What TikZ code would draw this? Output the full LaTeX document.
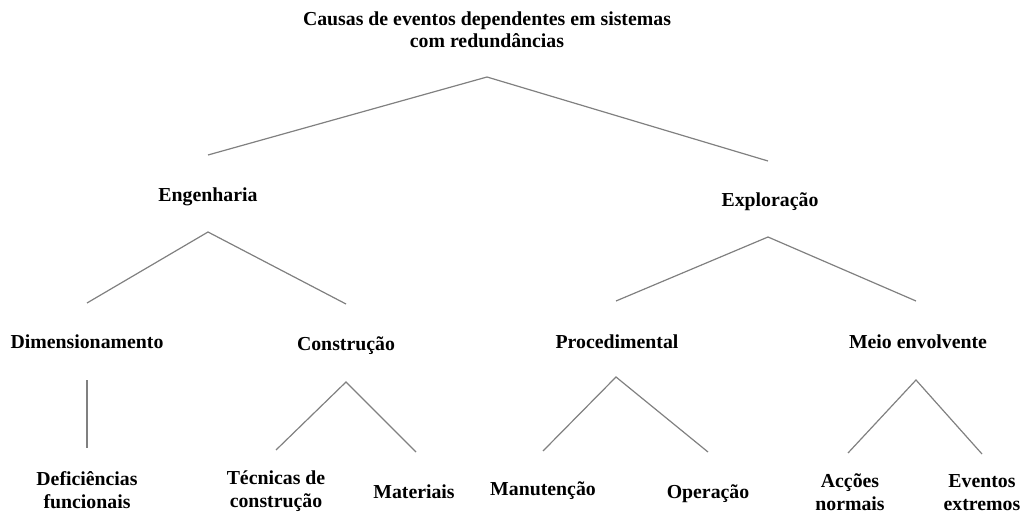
\documentclass[tikz,border=0pt]{standalone}
\usepackage{fontspec}
\setmainfont{Liberation Serif}
\begin{document}
\begin{tikzpicture}[x=1pt,y=1pt,
  lbl/.style={font=\fontsize{19.8}{22.5}\selectfont\bfseries, inner sep=0pt, align=center, anchor=base},
  conn/.style={draw=black!50, line width=1.2pt}]
\useasboundingbox (0,0) rectangle (1021,515);
% labels (base anchor = baseline of last line)
\node[lbl] (root) at (487,467) {Causas de eventos dependentes em sistemas\\com redundâncias};
\node[lbl] (eng) at (208,313) {Engenharia};
\node[lbl] (exp) at (770,308) {Exploração};
\node[lbl] (dim) at (87,167) {Dimensionamento};
\node[lbl] (con) at (346,165) {Construção};
\node[lbl] (pro) at (617,167) {Procedimental};
\node[lbl] (mei) at (918,167) {Meio envolvente};
\node[lbl] (def) at (87,7) {Deficiências\\funcionais};
\node[lbl] (tec) at (276,8) {Técnicas de\\construção};
\node[lbl] (mat) at (414,17) {Materiais};
\node[lbl] (man) at (543,20) {Manutenção};
\node[lbl] (ope) at (708,17) {Operação};
\node[lbl] (acc) at (850,5) {Acções\\normais};
\node[lbl] (eve) at (982,5) {Eventos\\extremos};
% connector points
\coordinate (r0) at (487,438); \coordinate (r1) at (208,360); \coordinate (r2) at (768,354);
\coordinate (e0) at (208,283); \coordinate (e1) at (87,212);  \coordinate (e2) at (346,211);
\coordinate (x0) at (768,278); \coordinate (x1) at (616,214); \coordinate (x2) at (916,214);
\coordinate (d0) at (87,135);  \coordinate (d1) at (87,67);
\coordinate (c0) at (346,133); \coordinate (c1) at (276,65);  \coordinate (c2) at (416,63);
\coordinate (p0) at (616,138); \coordinate (p1) at (543,64);  \coordinate (p2) at (708,63);
\coordinate (m0) at (916,135); \coordinate (m1) at (848,62);  \coordinate (m2) at (982,61);
% connectors
\draw[conn] (r1) -- (r0) -- (r2);
\draw[conn] (e1) -- (e0) -- (e2);
\draw[conn] (x1) -- (x0) -- (x2);
\draw[conn] (d0) -- (d1);
\draw[conn] (c1) -- (c0) -- (c2);
\draw[conn] (p1) -- (p0) -- (p2);
\draw[conn] (m1) -- (m0) -- (m2);
\end{tikzpicture}
\end{document}
